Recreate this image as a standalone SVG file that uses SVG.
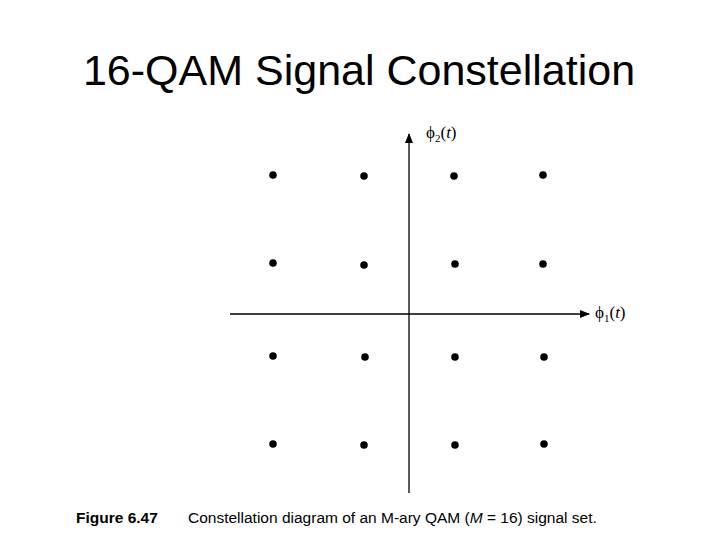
<svg xmlns="http://www.w3.org/2000/svg" width="720" height="540" viewBox="0 0 720 540">
<style>
.pt{fill:#000}
.ax{stroke:#000;stroke-width:1.3;fill:none}
.lb{font-family:"Liberation Serif",serif;font-size:17px}
.cap{font-family:"Liberation Sans",Arial,sans-serif;font-size:15.5px}
</style>
<defs><marker id="ar" markerWidth="10" markerHeight="8" refX="9" refY="4" orient="auto" markerUnits="userSpaceOnUse"><path d="M0,0 L10,4 L0,8 z" fill="#000"/></marker></defs>
<rect width="720" height="540" fill="#fff"/>
<text x="359" y="85" text-anchor="middle" font-family="Liberation Sans,Arial,sans-serif" font-size="43">16-QAM Signal Constellation</text>
<g id="axes">
<line class="ax" x1="409" y1="493" x2="409" y2="134" marker-end="url(#ar)"/>
<line class="ax" x1="230" y1="314" x2="589" y2="314" marker-end="url(#ar)"/>
</g>
<text class="lb" x="426" y="138">ϕ<tspan font-size="11" dy="4">2</tspan><tspan dy="-4">(</tspan><tspan font-style="italic">t</tspan>)</text>
<text class="lb" x="595" y="318">ϕ<tspan font-size="11" dy="4">1</tspan><tspan dy="-4">(</tspan><tspan font-style="italic">t</tspan>)</text>
<g id="points">
<circle class="pt" cx="273" cy="175" r="3.8"/><circle class="pt" cx="364" cy="176" r="3.8"/><circle class="pt" cx="454" cy="176" r="3.8"/><circle class="pt" cx="543" cy="175" r="3.8"/>
<circle class="pt" cx="273" cy="263" r="3.8"/><circle class="pt" cx="364" cy="265" r="3.8"/><circle class="pt" cx="455" cy="264" r="3.8"/><circle class="pt" cx="543" cy="264" r="3.8"/>
<circle class="pt" cx="273" cy="356" r="3.8"/><circle class="pt" cx="365" cy="357" r="3.8"/><circle class="pt" cx="455" cy="357" r="3.8"/><circle class="pt" cx="544" cy="357" r="3.8"/>
<circle class="pt" cx="273" cy="444" r="3.8"/><circle class="pt" cx="364" cy="445" r="3.8"/><circle class="pt" cx="455" cy="445" r="3.8"/><circle class="pt" cx="544" cy="444" r="3.8"/>
</g>
<text class="cap" x="76" y="523"><tspan font-weight="bold">Figure 6.47</tspan><tspan x="188">Constellation diagram of an M-ary QAM (</tspan><tspan font-style="italic">M</tspan> = 16) signal set.</text>
</svg>
